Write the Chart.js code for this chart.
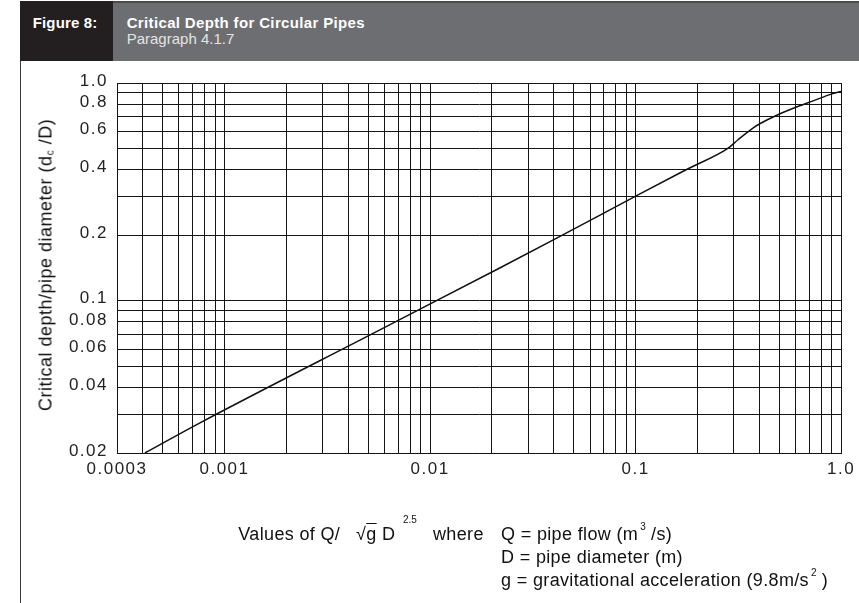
<!DOCTYPE html>
<html>
<head>
<meta charset="utf-8">
<script src="https://cdn.jsdelivr.net/npm/chart.js@4.4.1/dist/chart.umd.min.js"></script>
<style>
  html, body { margin:0; padding:0; background:#fff; }
  body { width:859px; height:603px; position:relative; overflow:hidden; font-family:"Liberation Sans", Arial, Helvetica, sans-serif; }
  #hdrGrey { position:absolute; left:113px; top:1px; width:746px; height:60px; background:#6d6e71; border-top:2px solid #4a4a4b; box-sizing:border-box; }
  #hdrBlack { position:absolute; left:20px; top:1px; width:93px; height:60px; background:#231f20; }
  #leftRule { position:absolute; left:19.5px; top:61px; width:1.6px; height:542px; background:#3d3d3d; }
  .t { position:absolute; white-space:nowrap; line-height:1; }
  #fig { left:32.7px; top:14.5px; font-size:15px; font-weight:bold; color:#fff; letter-spacing:0.15px; }
  #ttl { left:126.7px; top:14.5px; font-size:15px; font-weight:bold; color:#fff; letter-spacing:0.35px; }
  #sub { left:126.7px; top:30.6px; font-size:15px; color:#e4e4e4; }
  #ytitle { left:46px; top:265px; font-size:18px; color:#111; letter-spacing:0.5px; transform:translate(-50%,-50%) rotate(-90deg); }
  #ytitle sub { font-size:10px; vertical-align:-2px; }
  .b { font-size:18px; color:#111; letter-spacing:0.35px; }
  .sp { font-size:10px; letter-spacing:0; position:relative; top:-10px; margin-left:2px; }
  .sup { position:absolute; font-size:10px; line-height:1; color:#111; }
  #chart { position:absolute; left:0; top:0; }
</style>
</head>
<body>
<div id="hdrGrey"></div>
<div id="hdrBlack"></div>
<div id="leftRule"></div>
<div class="t" id="fig">Figure 8:</div>
<div class="t" id="ttl">Critical Depth for Circular Pipes</div>
<div class="t" id="sub">Paragraph 4.1.7</div>
<canvas id="chart" width="859" height="603"></canvas>
<div class="t" id="ytitle">Critical depth/pipe diameter (d<sub>c</sub> /D)</div>

<div class="t b" style="left:238.3px; top:524.8px;">Values of Q/</div>
<div class="t b" style="left:356px; top:524.8px;">&#8730;<span style="text-decoration:overline;">g</span> D</div>
<div class="sup" style="left:403px; top:515px;">2.5</div>
<div class="t b" style="left:433px; top:524.8px;">where</div>
<div class="t b" style="left:501px; top:524.8px;">Q = pipe flow (m<span class="sp">3</span> /s)</div>
<div class="t b" style="left:501px; top:547.8px;">D = pipe diameter (m)</div>
<div class="t b" style="left:501px; top:570.8px;">g = gravitational acceleration (9.8m/s<span class="sp">2</span> )</div>

<script>
// ---- data ----
const flowValues  = [0.00041, 0.00076, 0.0057, 0.0217, 0.0422, 0.1033, 0.1614, 0.18, 0.282, 0.315, 0.372, 0.402, 0.492, 0.615, 0.741, 0.893, 1.0];
const depthRatio  = [0.02, 0.0275, 0.0735, 0.141, 0.196, 0.307, 0.383, 0.404, 0.502, 0.549, 0.621, 0.650, 0.715, 0.780, 0.832, 0.889, 0.914];

// gridline positions (log grid)
const xGridValues = [0.0003, 0.0004, 0.0005, 0.0006, 0.0007, 0.0008, 0.0009,
                     0.001, 0.002, 0.003, 0.004, 0.005, 0.006, 0.007, 0.008, 0.009,
                     0.01, 0.02, 0.03, 0.04, 0.05, 0.06, 0.07, 0.08, 0.09,
                     0.1, 0.2, 0.3, 0.4, 0.5, 0.6, 0.7, 0.8, 0.9, 1.0];
const yGridValues = [0.02, 0.03, 0.04, 0.05, 0.06, 0.07, 0.08, 0.09,
                     0.1, 0.2, 0.3, 0.4, 0.5, 0.6, 0.7, 0.8, 0.9, 1.0];

// labelled ticks
const xTickValues = [0.0003, 0.001, 0.01, 0.1, 1.0];
const xTickLabels = ['0.0003', '0.001', '0.01', '0.1', '1.0'];
const yTickValues = [0.02, 0.04, 0.06, 0.08, 0.1, 0.2, 0.4, 0.6, 0.8, 1.0];
const yTickLabels = ['0.02', '0.04', '0.06', '0.08', '0.1', '0.2', '0.4', '0.6', '0.8', '1.0'];

function labelFor(value, vals, labels) {
  for (let i = 0; i < vals.length; i++) {
    if (Math.abs(Math.log10(value) - Math.log10(vals[i])) < 1e-6) return labels[i];
  }
  return '';
}

const FONT = '"Liberation Sans", Arial, Helvetica, sans-serif';
const GRID = '#141414';

const spacingPlugin = {
  id: 'spacing',
  beforeDraw(chart) { chart.ctx.letterSpacing = '1.5px'; }
};

new Chart(document.getElementById('chart'), {
  type: 'line',
  data: {
    datasets: [{
      data: flowValues.map((x, i) => ({ x: x, y: depthRatio[i] })),
      borderColor: '#111',
      borderWidth: 1.5,
      pointRadius: 0,
      fill: false,
      cubicInterpolationMode: 'monotone'
    }]
  },
  options: {
    responsive: false,
    animation: false,
    devicePixelRatio: 1,
    layout: { padding: { top: 83, left: 0, right: 16, bottom: 120 } },
    plugins: { legend: { display: false }, tooltip: { enabled: false }, title: { display: false } },
    scales: {
      x: {
        type: 'logarithmic',
        min: 0.0003,
        max: 1.0,
        afterBuildTicks(scale) { scale.ticks = xGridValues.map(v => ({ value: v })); },
        afterFit(scale) { scale.height = 30; },
        grid: { color: GRID, lineWidth: 1, drawTicks: false },
        border: { display: true, color: GRID, width: 1 },
        ticks: {
          autoSkip: false,
          maxRotation: 0,
          padding: 6,
          color: '#222',
          font: { family: FONT, size: 17 },
          callback: (v) => labelFor(v, xTickValues, xTickLabels)
        }
      },
      y: {
        type: 'logarithmic',
        min: 0.02,
        max: 1.0,
        afterBuildTicks(scale) { scale.ticks = yGridValues.map(v => ({ value: v })); },
        afterFit(scale) { scale.width = 117; },
        grid: { color: GRID, lineWidth: 1, drawTicks: false },
        border: { display: true, color: GRID, width: 1 },
        ticks: {
          autoSkip: false,
          padding: 9,
          labelOffset: -2,
          color: '#222',
          font: { family: FONT, size: 17 },
          callback: (v) => labelFor(v, yTickValues, yTickLabels)
        }
      }
    }
  },
  plugins: [spacingPlugin]
});
</script>
</body>
</html>
